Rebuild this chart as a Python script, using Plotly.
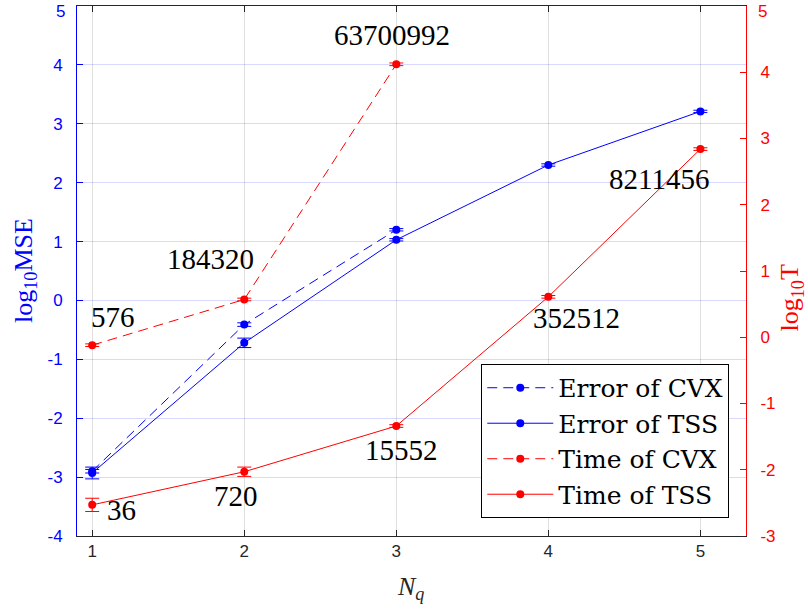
import plotly.graph_objects as go

# ---- data ----
nq = [1, 2, 3, 4, 5]
nq_cvx = [1, 2, 3]
err_cvx = [-2.90, -0.41, 1.20]
err_cvx_bar = [0.03, 0.03, 0.02]
err_tss = [-2.93, -0.72, 1.03, 2.30, 3.21]
err_tss_bar = [0.10, 0.08, 0.02, 0.02, 0.02]
time_cvx = [-0.12, 0.57, 4.12]
time_cvx_bar = [0.02, 0.02, 0.02]
time_tss = [-2.53, -2.03, -1.34, 0.61, 2.84]
time_tss_bar = [0.10, 0.07, 0.02, 0.02, 0.02]
cvx_labels = ["576", "184320", "63700992"]
tss_labels = ["36", "720", "15552", "352512", "8211456"]
left_ticks = [-4, -3, -2, -1, 0, 1, 2, 3, 4, 5]
left_ticktext = ["-4", "-3", "-2", "-1", "0", "1", "2", "3", "4", "5"]
right_ticks = [-3, -2, -1, 0, 1, 2, 3, 4, 5]
right_ticktext = ["-3", "-2", "-1", "0", "1", "2", "3", "4", "5"]
x_ticks = [1, 2, 3, 4, 5]

# label pixel offsets (style)
cvx_shift = [(21, 28), (-34, 40), (-4, 29)]
tss_shift = [(29, -5), (-8, -24), (5, -24), (28, -21), (-41, -30)]

BLUE = "#0000ff"
RED = "#ff0000"
SERIF = "'Liberation Serif', 'DejaVu Serif', serif"
LEGSERIF = "'DejaVu Serif', serif"
SANS = "'Liberation Sans', Arial, sans-serif"

fig = go.Figure()

def add(x, y, e, color, dash, name, yaxis):
    fig.add_trace(go.Scatter(
        x=x, y=y, name=name, yaxis=yaxis, mode="lines+markers",
        line=dict(color=color, width=1, dash=dash),
        marker=dict(color=color, size=8),
        error_y=dict(type="data", array=e, color=color, thickness=1, width=7),
    ))

add(nq_cvx, err_cvx, err_cvx_bar, BLUE, "10px,6px", "Error of CVX", "y")
add(nq, err_tss, err_tss_bar, BLUE, "solid", "Error of TSS", "y")
add(nq_cvx, time_cvx, time_cvx_bar, RED, "10px,6px", "Time of CVX", "y2")
add(nq, time_tss, time_tss_bar, RED, "solid", "Time of TSS", "y2")

ann = []
for xv, yv, t, (dx, dy) in zip(nq_cvx, time_cvx, cvx_labels, cvx_shift):
    ann.append(dict(x=xv, y=yv, xref="x", yref="y2", text=t, showarrow=False,
                    xanchor="center", yanchor="middle",
                    xshift=dx, yshift=dy, font=dict(family=SERIF, size=29, color="black")))
for xv, yv, t, (dx, dy) in zip(nq, time_tss, tss_labels, tss_shift):
    ann.append(dict(x=xv, y=yv, xref="x", yref="y2", text=t, showarrow=False,
                    xanchor="center", yanchor="middle",
                    xshift=dx, yshift=dy, font=dict(family=SERIF, size=29, color="black")))

# top tick labels nudged down inside the figure (as the reference does)
ann.append(dict(x=0, y=left_ticks[-1], xref="paper", yref="y", text=left_ticktext[-1],
                xanchor="right", yanchor="middle", xshift=-10, yshift=-5, showarrow=False,
                font=dict(family=SANS, size=17, color=BLUE)))
ann.append(dict(x=1, y=right_ticks[-1], xref="paper", yref="y2", text=right_ticktext[-1],
                xanchor="left", yanchor="middle", xshift=10, yshift=-5, showarrow=False,
                font=dict(family=SANS, size=17, color=RED)))

ann.append(dict(x=-0.0777, y=0.5, xref="paper", yref="paper", text="log<sub>10</sub>MSE",
                xanchor="center", yanchor="middle",
                textangle=-90, showarrow=False, font=dict(family=SERIF, size=26, color=BLUE)))
ann.append(dict(x=1.068, y=0.449, xref="paper", yref="paper", text="log<sub>10</sub>T",
                xanchor="center", yanchor="middle",
                textangle=-90, showarrow=False, font=dict(family=SERIF, size=26, color=RED)))
ann.append(dict(x=0.498, y=-0.098, xref="paper", yref="paper", text="<i>N<sub>q</sub></i>",
                xanchor="center", yanchor="middle",
                showarrow=False, font=dict(family=SERIF, size=26, color="#262626")))

fig.update_layout(
    width=808, height=611,
    margin=dict(l=77, r=62, t=6, b=75, autoexpand=False),
    plot_bgcolor="white", paper_bgcolor="white",
    showlegend=True,
    legend=dict(x=0.975, y=0.034, xanchor="right", yanchor="bottom",
                bgcolor="white", bordercolor="black", borderwidth=1,
                font=dict(family=LEGSERIF, size=25, color="black"),
                itemwidth=66, tracegroupgap=0),
    annotations=ann,
    xaxis=dict(range=[0.9, 5.3], tickvals=x_ticks, ticks="inside", ticklen=6,
               tickcolor="#262626", showline=True, linecolor="#262626", mirror="ticks",
               showgrid=True, gridcolor="rgba(38,38,38,0.15)", zeroline=False,
               tickfont=dict(family=SANS, size=17, color="#262626"), automargin=False),
    yaxis=dict(range=[-4, 5.0001], tickvals=left_ticks,
               ticktext=left_ticktext[:-1] + [""],
               ticks="inside", ticklen=6, tickcolor=BLUE, showline=True, linecolor=BLUE,
               showgrid=True, gridcolor="rgba(0,0,255,0.15)", zeroline=False,
               tickfont=dict(family=SANS, size=17, color=BLUE), ticklabelstandoff=10,
               automargin=False),
    yaxis2=dict(range=[-3, 5.0001], tickvals=right_ticks,
                ticktext=right_ticktext[:-1] + [""],
                overlaying="y", side="right", ticks="inside", ticklen=6, tickcolor=RED,
                showline=True, linecolor=RED, showgrid=False, zeroline=False,
                tickfont=dict(family=SANS, size=17, color=RED), ticklabelstandoff=10,
                automargin=False),
)

fig.write_html("out.html")
